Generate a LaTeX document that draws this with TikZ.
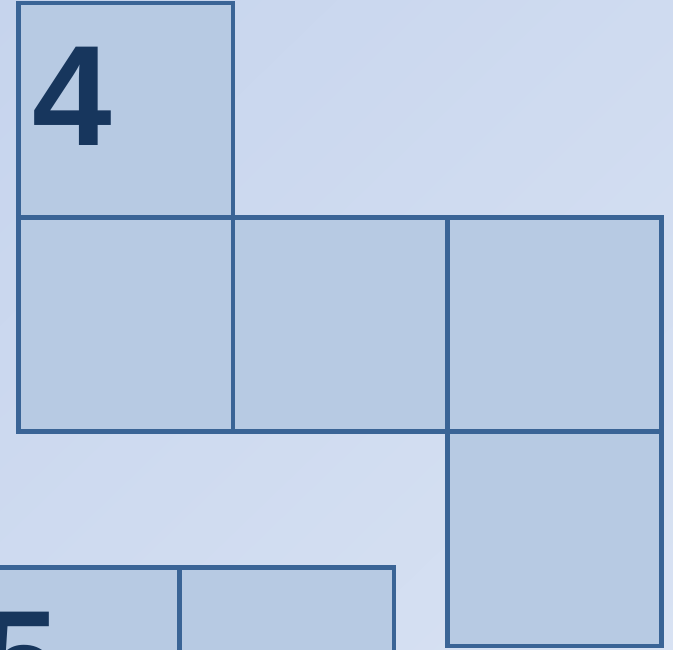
\documentclass[tikz,border=0pt]{standalone}
\usepackage{fontspec}
\setmainfont{Liberation Sans}
\usetikzlibrary{positioning,shadings}
\definecolor{bgtl}{RGB}{198,212,237}
\definecolor{bgmid}{RGB}{207,219,240}
\definecolor{bgbr}{RGB}{216,226,243}
\definecolor{cellfill}{RGB}{183,202,227}
\definecolor{celledge}{RGB}{58,100,150}
\definecolor{numink}{RGB}{23,54,93}
\begin{document}
\begin{tikzpicture}[
  x=1pt,y=1pt,
  cell/.style={draw=celledge, fill=cellfill, line width=4.8pt, minimum size=214.3pt, inner sep=0pt, outer sep=0pt},
  num/.style={text=numink, font=\fontsize{143}{143}\selectfont\bfseries, inner sep=0pt, anchor=north west}
]
  \useasboundingbox (0,0) rectangle (673,650);
  \clip (0,0) rectangle (673,650);
  \shade[upper left=bgtl, upper right=bgmid, lower left=bgmid, lower right=bgbr] (0,0) rectangle (673,650);

  % upper net
  \node[cell] (c4) at (125.75,539.75) {};
  \node[cell, below=0pt of c4] (r1) {};
  \node[cell, right=0pt of r1] (r2) {};
  \node[cell, right=0pt of r2] (r3) {};
  \node[cell, below=0pt of r3] (r4) {};

  % lower net, cut by the frame
  \node[cell] (c5) at (72.6,-24.7) {};
  \node[cell, right=0pt of c5] (b2) {};

  \node[num] (n4) at ([xshift=14pt, yshift=-44pt]c4.north west) {4};
  \node[num] (n5) at ([xshift=14pt, yshift=-44pt]c5.north west) {5};
\end{tikzpicture}
\end{document}
